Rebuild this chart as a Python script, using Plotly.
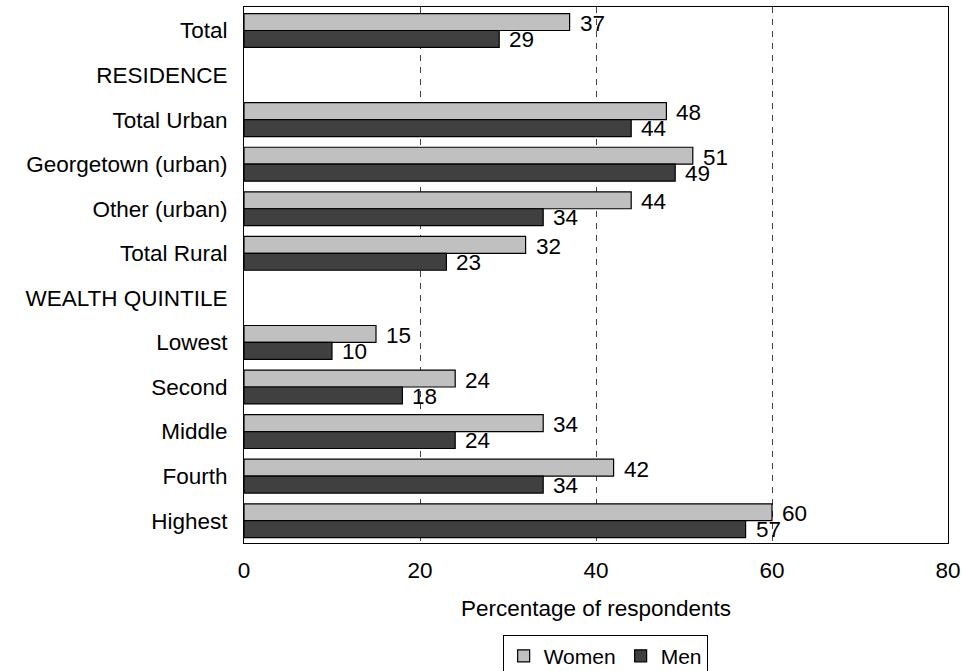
import plotly.graph_objects as go

categories = ["Total", "RESIDENCE", "Total Urban", "Georgetown (urban)", "Other (urban)",
              "Total Rural", "WEALTH QUINTILE", "Lowest", "Second", "Middle", "Fourth", "Highest"]
women = [37, None, 48, 51, 44, 32, None, 15, 24, 34, 42, 60]
men = [29, None, 44, 49, 34, 23, None, 10, 18, 24, 34, 57]
x_ticks = [0, 20, 40, 60, 80]

FONT = "Liberation Sans, Arial, sans-serif"
FS = 22.5

fig = go.Figure()
fig.add_trace(go.Bar(y=categories, x=women, orientation="h", name="Women",
                     marker=dict(color="#c0c0c0", line=dict(color="black", width=1.2))))
fig.add_trace(go.Bar(y=categories, x=men, orientation="h", name="Men",
                     marker=dict(color="#404040", line=dict(color="black", width=1.2))))

annotations = []
for cat, w, m in zip(categories, women, men):
    if w is not None:
        annotations.append(dict(x=w, y=cat, text=str(w), showarrow=False, xanchor="left",
                                yanchor="middle", xshift=8, yshift=7,
                                font=dict(size=FS, color="black", family=FONT)))
    if m is not None:
        annotations.append(dict(x=m, y=cat, text=str(m), showarrow=False, xanchor="left",
                                yanchor="middle", xshift=8, yshift=-9,
                                font=dict(size=FS, color="black", family=FONT)))

fig.update_layout(
    width=963, height=671,
    margin=dict(l=244, r=15, t=7, b=128, autoexpand=False),
    paper_bgcolor="white", plot_bgcolor="white",
    barmode="group", bargap=0.24, bargroupgap=0,
    font=dict(family=FONT, size=FS, color="black"),
    annotations=annotations,
    legend=dict(orientation="h", x=0.513, xanchor="center", y=-0.171, yanchor="top",
                bordercolor="black", borderwidth=1, font=dict(size=21),
                itemwidth=30, tracegroupgap=0),
    xaxis=dict(range=[0, 80], tickvals=x_ticks, ticktext=[str(t) for t in x_ticks],
               showgrid=True, gridcolor="#444444", griddash="6px,6px", gridwidth=1,
               showline=True, linecolor="black", linewidth=1, mirror=True,
               zeroline=False, ticks="", ticklabelstandoff=7, automargin=False,
               title=dict(text="Percentage of respondents", standoff=18,
                          font=dict(size=FS))),
    yaxis=dict(categoryorder="array", categoryarray=categories, autorange="reversed",
               showline=True, linecolor="black", linewidth=1, mirror=True,
               showgrid=False, ticks="", ticklabelstandoff=11, automargin=False),
)

fig.write_html("out.html", config={"displayModeBar": False},
               post_script="document.body.style.margin='0';")
